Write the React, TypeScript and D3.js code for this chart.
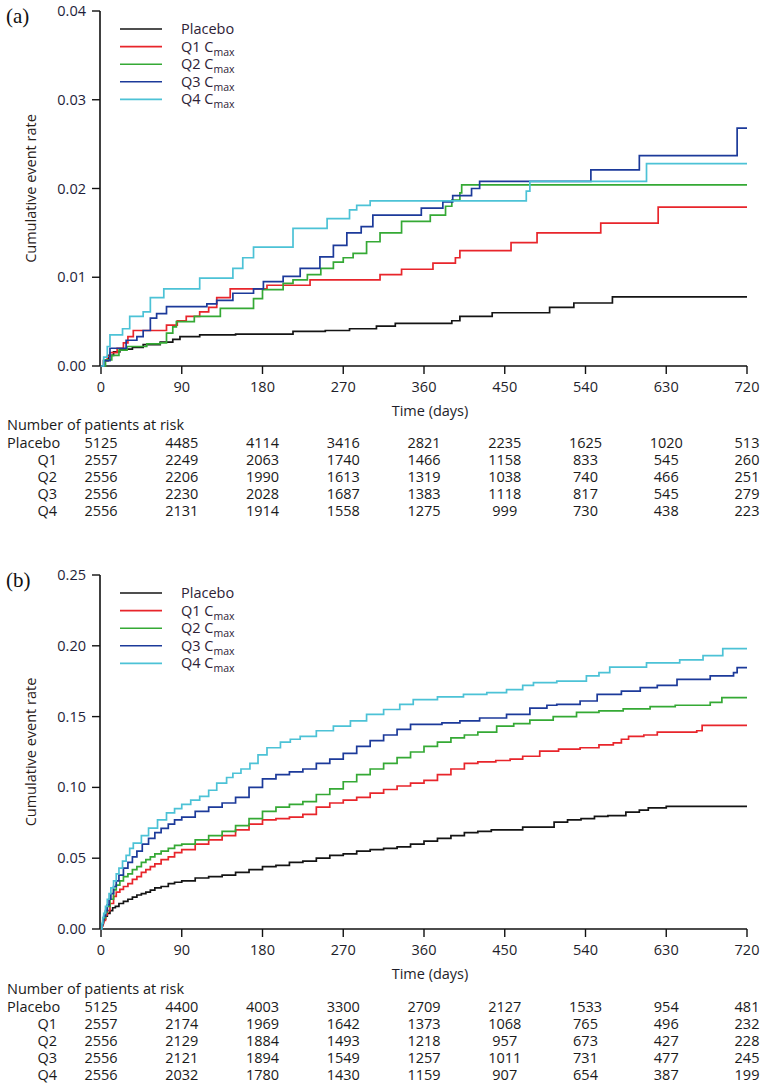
import React from "react";
import * as d3 from "d3";

// ---------- shared categories ----------
const DAYS = [0, 90, 180, 270, 360, 450, 540, 630, 720];
const GROUP_LABELS = ["Placebo", "Q1", "Q2", "Q3", "Q4"];
const LEGEND_MAIN = ["Placebo", "Q1 C", "Q2 C", "Q3 C", "Q4 C"];
const LEGEND_SUB = ["", "max", "max", "max", "max"];
const COLORS = ["#141414", "#e8252b", "#35a935", "#1c3a9a", "#4cc2d6"];

// ---------- panel (a) ----------
const Y_TICKS_A = [0, 0.01, 0.02, 0.03, 0.04];
const placeboA: [number, number][] = [[0,0],[3,0.0006],[8,0.0012],[14,0.0016],[21,0.0019],[35,0.0021],[47,0.0024],[66,0.0027],[80,0.0030],[88,0.0033],[110,0.0035],[150,0.0036],[214,0.0039],[250,0.0040],[277,0.0042],[307,0.0045],[328,0.0048],[391,0.0051],[400,0.0056],[436,0.0060],[500,0.0066],[527,0.0071],[570,0.0078]];
const q1A: [number, number][] = [[0,0],[3,0.0006],[7,0.0011],[10,0.0015],[18,0.0020],[25,0.0026],[30,0.0033],[36,0.0040],[73,0.0046],[85,0.0051],[95,0.0056],[110,0.0061],[120,0.0066],[129,0.0077],[144,0.0087],[185,0.0091],[233,0.0097],[311,0.0103],[335,0.0109],[370,0.0116],[395,0.0122],[400,0.0130],[457,0.0139],[486,0.0150],[557,0.0161],[621,0.0179]];
const q2A: [number, number][] = [[0,0],[5,0.0007],[12,0.0012],[20,0.0018],[29,0.0022],[51,0.0025],[66,0.0026],[73,0.0037],[80,0.0044],[84,0.0050],[104,0.0056],[133,0.0065],[170,0.0076],[180,0.0086],[203,0.0093],[214,0.0097],[230,0.0103],[245,0.0110],[259,0.0117],[270,0.0122],[281,0.0127],[296,0.0140],[311,0.0150],[335,0.0163],[367,0.0170],[384,0.0180],[391,0.0187],[400,0.0195],[402,0.0204]];
const q3A: [number, number][] = [[0,0],[3,0.0006],[10,0.0020],[28,0.0029],[40,0.0033],[47,0.0040],[55,0.0054],[62,0.0059],[73,0.0067],[118,0.0070],[129,0.0074],[147,0.0082],[170,0.0087],[181,0.0095],[203,0.0101],[222,0.0110],[244,0.0123],[259,0.0136],[274,0.0150],[290,0.0157],[303,0.0170],[357,0.0178],[381,0.0185],[392,0.0192],[413,0.0200],[422,0.0208],[546,0.0221],[600,0.0237],[709,0.0268]];
const q4A: [number, number][] = [[0,0],[3,0.0010],[7,0.0022],[10,0.0035],[24,0.0042],[32,0.0056],[47,0.0061],[55,0.0077],[70,0.0087],[110,0.0099],[147,0.0110],[158,0.0122],[170,0.0134],[214,0.0155],[252,0.0166],[277,0.0176],[285,0.0181],[300,0.0186],[474,0.0197],[478,0.0208],[608,0.0228]];
const riskPlaceboA = [5125, 4485, 4114, 3416, 2821, 2235, 1625, 1020, 513];
const riskQ1A = [2557, 2249, 2063, 1740, 1466, 1158, 833, 545, 260];
const riskQ2A = [2556, 2206, 1990, 1613, 1319, 1038, 740, 466, 251];
const riskQ3A = [2556, 2230, 2028, 1687, 1383, 1118, 817, 545, 279];
const riskQ4A = [2556, 2131, 1914, 1558, 1275, 999, 730, 438, 223];

// ---------- panel (b) ----------
const Y_TICKS_B = [0, 0.05, 0.1, 0.15, 0.2, 0.25];
const placeboB: [number, number][] = [[0,0],[1,0.003],[2,0.005],[3,0.007],[5,0.009],[7,0.011],[10,0.013],[13,0.015],[16,0.016],[20,0.018],[25,0.0195],[30,0.021],[35,0.0225],[40,0.024],[45,0.025],[50,0.026],[55,0.0275],[60,0.029],[67,0.030],[75,0.032],[82,0.033],[90,0.034],[105,0.036],[120,0.037],[135,0.038],[150,0.040],[165,0.042],[180,0.044],[195,0.045],[210,0.047],[225,0.048],[240,0.050],[255,0.052],[270,0.053],[285,0.055],[300,0.056],[315,0.057],[330,0.058],[345,0.060],[360,0.062],[375,0.064],[390,0.066],[405,0.068],[420,0.069],[435,0.070],[470,0.072],[505,0.0755],[520,0.077],[535,0.078],[550,0.0795],[565,0.080],[585,0.0825],[600,0.084],[610,0.0855],[630,0.0866]];
const q1B: [number, number][] = [[0,0],[1,0.002],[2,0.004],[3,0.006],[5,0.010],[7,0.013],[10,0.018],[14,0.023],[17,0.026],[21,0.028],[25,0.030],[30,0.032],[35,0.035],[40,0.037],[45,0.040],[50,0.042],[55,0.044],[60,0.046],[67,0.049],[75,0.051],[82,0.054],[90,0.056],[105,0.060],[120,0.063],[135,0.066],[150,0.070],[165,0.074],[180,0.077],[195,0.078],[210,0.079],[225,0.081],[240,0.086],[255,0.089],[270,0.091],[285,0.093],[300,0.096],[315,0.0985],[330,0.101],[345,0.103],[360,0.105],[375,0.109],[390,0.113],[405,0.117],[420,0.118],[440,0.119],[456,0.120],[470,0.122],[489,0.1256],[510,0.127],[534,0.128],[555,0.130],[571,0.1315],[580,0.134],[588,0.136],[605,0.137],[620,0.139],[664,0.140],[670,0.1438]];
const q2B: [number, number][] = [[0,0],[1,0.003],[2,0.006],[3,0.008],[5,0.012],[7,0.016],[10,0.021],[14,0.0276],[17,0.031],[21,0.034],[25,0.037],[30,0.039],[35,0.042],[40,0.044],[45,0.047],[50,0.049],[55,0.051],[60,0.053],[67,0.055],[75,0.057],[82,0.059],[90,0.060],[105,0.063],[120,0.066],[135,0.069],[150,0.073],[165,0.078],[180,0.083],[195,0.086],[210,0.088],[225,0.090],[240,0.095],[255,0.099],[270,0.104],[285,0.109],[300,0.113],[315,0.117],[330,0.121],[345,0.125],[360,0.129],[375,0.132],[390,0.135],[405,0.137],[420,0.139],[441,0.1433],[460,0.145],[478,0.1475],[504,0.150],[530,0.153],[555,0.154],[582,0.1555],[612,0.157],[640,0.158],[679,0.160],[692,0.1634]];
const q3B: [number, number][] = [[0,0],[1,0.003],[2,0.006],[3,0.009],[5,0.013],[7,0.017],[9,0.021],[11,0.025],[14,0.030],[17,0.034],[20,0.038],[25,0.043],[30,0.047],[35,0.051],[40,0.055],[46,0.060],[53,0.064],[60,0.068],[67,0.071],[75,0.074],[82,0.077],[90,0.079],[105,0.083],[120,0.086],[135,0.089],[150,0.093],[165,0.100],[180,0.106],[195,0.109],[210,0.111],[225,0.113],[240,0.117],[255,0.120],[270,0.124],[285,0.129],[300,0.133],[315,0.137],[330,0.141],[345,0.1445],[380,0.1456],[400,0.147],[422,0.149],[452,0.1516],[478,0.156],[497,0.158],[508,0.1586],[534,0.161],[553,0.1657],[580,0.168],[601,0.1705],[620,0.172],[642,0.1763],[679,0.1787],[705,0.181],[709,0.1846]];
const q4B: [number, number][] = [[0,0],[1,0.004],[2,0.008],[3,0.011],[5,0.016],[7,0.021],[9,0.025],[11,0.029],[14,0.034],[17,0.039],[20,0.043],[24,0.048],[28,0.052],[32,0.057],[36,0.0607],[45,0.066],[53,0.0713],[63,0.077],[73,0.082],[82,0.085],[90,0.088],[100,0.091],[110,0.0937],[120,0.098],[129,0.103],[140,0.107],[147,0.110],[156,0.113],[166,0.117],[175,0.123],[185,0.128],[200,0.132],[211,0.134],[222,0.136],[240,0.140],[259,0.1433],[278,0.147],[296,0.1516],[315,0.155],[333,0.1586],[348,0.162],[375,0.164],[404,0.1657],[430,0.167],[452,0.169],[470,0.172],[482,0.174],[508,0.175],[541,0.1787],[555,0.181],[567,0.185],[608,0.188],[645,0.190],[671,0.193],[693,0.198]];
const riskPlaceboB = [5125, 4400, 4003, 3300, 2709, 2127, 1533, 954, 481];
const riskQ1B = [2557, 2174, 1969, 1642, 1373, 1068, 765, 496, 232];
const riskQ2B = [2556, 2129, 1884, 1493, 1218, 957, 673, 427, 228];
const riskQ3B = [2556, 2121, 1894, 1549, 1257, 1011, 731, 477, 245];
const riskQ4B = [2556, 2032, 1780, 1430, 1159, 907, 654, 387, 199];

const FONT = "'Open Sans', 'DejaVu Sans', sans-serif";
const SERIF = "'Liberation Serif', 'DejaVu Serif', serif";
const FS = 14.5;

type PanelProps = {
  label: string;
  top: number;
  bottom: number;
  yTicks: number[];
  series: [number, number][][];
  risk: number[][];
};

function Panel({ label, top, bottom, yTicks, series, risk }: PanelProps) {
  const x = d3.scaleLinear().domain([0, 720]).range([101, 747]);
  const y = d3.scaleLinear().domain([0, yTicks[yTicks.length - 1]]).range([bottom, top]);
  const line = d3
    .line<[number, number]>()
    .x((d) => x(d[0]))
    .y((d) => y(d[1]))
    .curve(d3.curveStepAfter);
  const fmt = d3.format(".2f");
  const off = top - 11;
  const legendY = (i: number) => 29 + off + i * 17.6;
  const rowY = (i: number) => 443 + off + i * 17;
  return (
    <g>
      <text x={6} y={23 + off} fontFamily={SERIF} fontSize={21} fill="#111">
        {label}
      </text>
      <line x1={100} x2={100} y1={top} y2={bottom} stroke="#111" strokeWidth={1.6} />
      {yTicks.map((t) => (
        <g key={t}>
          <line x1={92} x2={100} y1={y(t)} y2={y(t)} stroke="#111" strokeWidth={1.4} />
          <text x={86} y={y(t) + 5} textAnchor="end" fontFamily={FONT} fontSize={FS} fill="#1e1e3a">
            {fmt(t)}
          </text>
        </g>
      ))}
      <text
        transform={`translate(32,${(top + bottom) / 2}) rotate(-90)`}
        textAnchor="middle"
        dominantBaseline="middle"
        fontFamily={FONT}
        fontSize={FS}
        fill="#2a2018"
      >
        Cumulative event rate
      </text>
      <line x1={x(0)} x2={x(720)} y1={bottom} y2={bottom} stroke="#111" strokeWidth={1.6} />
      {DAYS.map((d) => (
        <g key={d}>
          <line x1={x(d)} x2={x(d)} y1={bottom} y2={bottom + 8} stroke="#111" strokeWidth={1.4} />
          <text x={x(d)} y={bottom + 26} textAnchor="middle" fontFamily={FONT} fontSize={FS} fill="#1e1e2a">
            {d}
          </text>
        </g>
      ))}
      <text x={430} y={bottom + 50} textAnchor="middle" fontFamily={FONT} fontSize={FS} fill="#1e1e2a">
        Time (days)
      </text>
      {series.map((s, i) => {
        const pts = [...s, [720, s[s.length - 1][1]] as [number, number]];
        return (
          <path key={i} d={line(pts) || ""} fill="none" stroke={COLORS[i]} strokeWidth={1.7} strokeLinejoin="miter" />
        );
      })}
      {LEGEND_MAIN.map((m, i) => (
        <g key={m}>
          <line x1={120} x2={162} y1={legendY(i)} y2={legendY(i)} stroke={COLORS[i]} strokeWidth={1.6} />
          <text x={181} y={legendY(i) + 5} fontFamily={FONT} fontSize={FS} fill="#2e2236">
            {m}
            {LEGEND_SUB[i] && (
              <tspan fontSize={10.5} dy={4}>
                {LEGEND_SUB[i]}
              </tspan>
            )}
          </text>
        </g>
      ))}
      <text x={7} y={425 + off + 5} fontFamily={FONT} fontSize={FS} fill="#1a1a1a">
        Number of patients at risk
      </text>
      {GROUP_LABELS.map((g, i) => (
        <g key={g}>
          <text
            x={i === 0 ? 7 : 57}
            y={rowY(i) + 5}
            textAnchor={i === 0 ? "start" : "end"}
            fontFamily={FONT}
            fontSize={FS}
            fill="#1a1a1a"
          >
            {g}
          </text>
          {risk[i].map((v, j) => (
            <text key={j} x={x(DAYS[j])} y={rowY(i) + 5} textAnchor="middle" fontFamily={FONT} fontSize={FS} fill="#1a1a1a">
              {v}
            </text>
          ))}
        </g>
      ))}
    </g>
  );
}

export default function App() {
  return (
    <svg
      width={765}
      height={1091}
      style={{ position: "absolute", left: 0, top: 0, background: "#fff" }}
    >
      <rect width={765} height={1091} fill="#fff" />
      <Panel
        label="(a)"
        top={11}
        bottom={366}
        yTicks={Y_TICKS_A}
        series={[placeboA, q1A, q2A, q3A, q4A]}
        risk={[riskPlaceboA, riskQ1A, riskQ2A, riskQ3A, riskQ4A]}
      />
      <Panel
        label="(b)"
        top={575}
        bottom={929}
        yTicks={Y_TICKS_B}
        series={[placeboB, q1B, q2B, q3B, q4B]}
        risk={[riskPlaceboB, riskQ1B, riskQ2B, riskQ3B, riskQ4B]}
      />
    </svg>
  );
}
